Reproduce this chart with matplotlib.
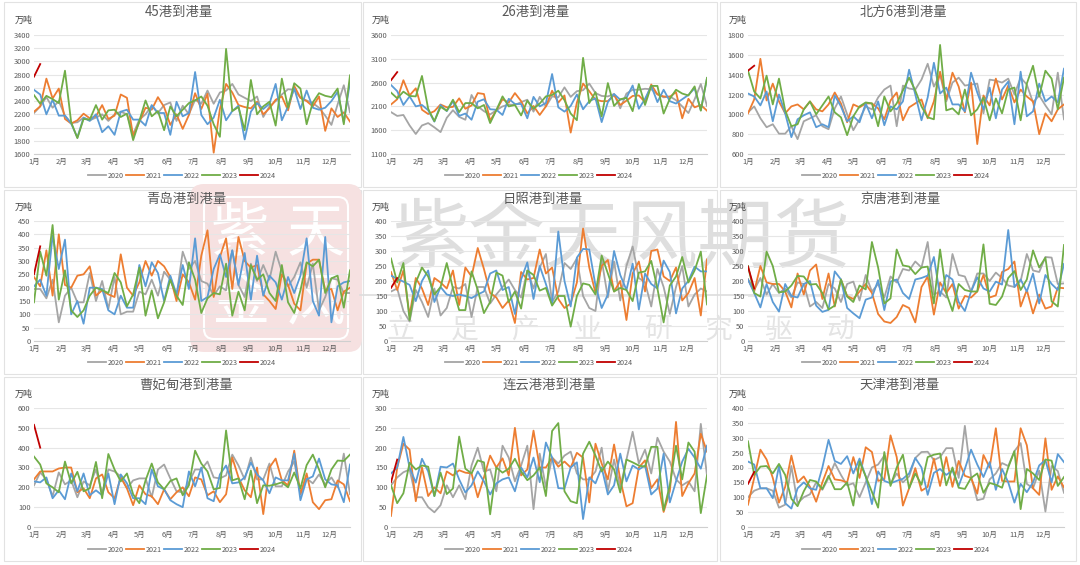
import numpy as np
import matplotlib
matplotlib.use('Agg')
import matplotlib.pyplot as plt
from matplotlib.patches import FancyBboxPatch, Rectangle

plt.rcParams['font.family'] = ['Noto Sans CJK SC', 'DejaVu Sans']

# weekly arrivals, 13 values per row, 4 rows per series
p45_2020 = [2220,2320,2460,2300,2400,2180,2070,2080,2150,2110,2150,2200,2100,
            2200,2240,2200,1900,2120,2200,2330,2220,2340,2380,2100,2330,2200,
            2420,2360,2560,2360,2530,2560,2660,2500,2450,2400,2470,2160,2320,
            2400,2500,2580,2570,2450,2410,2370,2300,2180,2040,2350,2640,2230]
p45_2021 = [2240,2320,2740,2440,2590,2130,2060,2110,2210,2140,2170,2340,2130,
            2180,2500,2450,1870,2080,2300,2270,2460,2310,2040,2200,1980,2190,
            2520,2280,2510,1620,2280,2660,2530,2340,2310,2290,2390,2200,2290,
            2420,2470,2260,2630,2450,2400,2320,2470,1950,2290,2160,2230,2090]
p45_2022 = [2570,2500,2200,2420,2180,2180,2060,1850,2150,2100,2200,1930,2020,
            1890,2240,2270,2120,2120,2030,2340,2220,2220,1890,2390,2170,2220,
            2840,2190,2050,2150,2420,2110,2250,2330,1820,2240,2370,2280,2360,
            2660,2110,2320,2590,2280,2560,2300,2270,2300,2400,2540,2080,2690]
p45_2023 = [2490,2360,2480,2430,2370,2860,2080,1840,2130,2120,2340,2120,2260,
            2270,2160,2210,1810,2100,2410,2170,2250,1960,2320,2170,2270,2370,
            2410,2470,2330,2050,1860,3190,2250,2310,1960,2720,2200,2320,2390,
            2030,2740,2300,2670,2590,2050,2380,2520,2480,2460,2590,2050,2790]
p45_2024 = [2770,2960]

p26_2020 = [1980,1900,1920,1700,1520,1700,1750,1660,1560,1860,2020,1880,1820,
            2340,2100,2000,1930,2020,2100,2140,2130,2190,2240,1990,2300,2100,
            2310,2290,2500,2300,2420,2440,2580,2380,2320,2310,2360,2060,2370,
            2450,2450,2470,2460,2360,2290,2310,2230,2100,1960,2250,2570,2110]
p26_2021 = [2140,2250,2650,2330,2480,2030,1940,2000,2140,2080,2090,2270,2050,
            2120,2380,2360,1800,2020,2250,2180,2380,2210,1950,2110,1920,2100,
            2430,2180,2330,1550,2180,2580,2420,2240,2210,2210,2340,2130,2220,
            2320,2330,2190,2560,2350,2310,2300,2400,1850,2260,2080,2130,2010]
p26_2022 = [2550,2420,2130,2310,2100,2130,2020,1780,2130,2000,2210,1900,1950,
            1820,2200,2250,2040,2030,1920,2260,2150,2150,1850,2300,2100,2170,
            2780,2080,1990,2110,2350,2040,2210,2270,1770,2190,2360,2240,2280,
            2540,2050,2260,2530,2190,2450,2210,2160,2250,2340,2480,2020,2690]
p26_2023 = [2390,2270,2410,2320,2310,2740,2050,1790,2090,2010,2240,1980,2170,
            2170,2060,2130,1750,2020,2310,2100,2130,1910,2220,2050,2160,2310,
            2340,2430,2230,1950,1810,3120,2170,2400,1890,2590,2110,2250,2280,
            2000,2570,2130,2530,2530,1950,2260,2450,2370,2330,2520,2010,2700]
p26_2024 = [2650,2820]

north_2020 = [1020,1080,960,870,900,805,805,880,750,930,960,990,880,
              850,1060,1180,1000,840,950,1080,1050,1170,1250,1290,880,1290,
              1260,1250,1350,1510,1280,1400,1130,1320,1370,1290,1300,1310,1010,
              1350,1340,1320,1360,1200,1370,1300,1120,1190,1090,1000,1420,950]
north_2021 = [1010,1150,1560,1140,1310,1130,1010,1080,1100,1050,1130,1050,1030,
              1100,1220,1110,920,1100,1070,1110,1110,1060,950,1140,1220,940,
              1070,1110,1150,960,1130,1430,1150,1420,1280,1020,1320,700,1190,
              1090,1360,1150,1290,1120,1250,1180,1130,800,1010,930,1050,1100]
north_2022 = [1210,1180,1090,1230,930,1200,1010,770,950,990,1020,870,900,
              870,1190,1080,930,980,920,1110,960,1130,890,1080,1050,1130,
              1450,1200,940,1170,1520,1210,1270,1100,1100,1030,1420,1220,1050,
              1270,960,1250,1330,900,1430,980,1030,1310,1130,1180,1120,1460]
north_2023 = [1440,1230,1160,1390,1100,1360,1040,880,900,1050,1130,1000,1090,
              1180,1020,970,790,980,1080,1120,1110,880,1180,1030,1110,1240,
              1370,1240,1080,970,950,1700,1040,1060,1000,1250,990,1050,1170,
              940,1160,1010,1250,1270,940,1310,1490,1180,1440,1360,1050,1370]
north_2024 = [1440,1490]

qd_2020 = [195,195,160,230,70,170,200,145,145,255,150,225,120,
           240,100,110,110,185,175,230,170,260,230,170,335,270,
           300,225,215,170,205,190,340,210,165,290,225,285,230,
           335,260,205,240,295,200,290,115,165,235,230,180,180]
qd_2021 = [240,205,340,170,400,210,200,245,250,280,170,190,175,
           165,325,200,170,220,300,245,300,280,240,150,250,220,
           155,320,415,165,315,385,195,390,300,275,285,175,150,
           120,250,210,140,115,290,305,305,190,195,115,185,200]
qd_2022 = [205,230,170,395,270,380,100,150,65,200,200,195,115,
           100,170,125,125,285,205,295,255,150,245,175,285,195,
           385,150,165,270,325,240,340,210,330,155,320,170,245,
           220,155,240,180,245,385,150,95,390,70,205,220,225]
qd_2023 = [145,335,245,435,155,265,115,90,115,170,200,190,180,
           255,220,130,175,275,95,190,85,145,230,170,135,295,
           230,105,160,180,175,290,95,185,115,285,230,250,180,
           150,285,145,105,190,295,280,305,180,235,245,125,265]
qd_2024 = [250,355]

rz_2020 = [165,175,100,65,170,130,80,175,85,110,180,175,190,
           80,180,180,125,155,180,205,170,145,235,175,245,290,
           130,165,260,240,275,150,110,100,270,145,265,135,250,
           315,210,195,115,240,180,90,180,250,115,155,175,165]
rz_2021 = [230,170,235,85,210,175,120,210,195,175,235,120,245,
           215,310,240,160,145,110,135,60,230,205,210,305,225,
           245,140,110,125,195,375,245,160,250,270,165,200,70,
           225,265,165,300,305,215,200,245,135,160,210,85,272]
rz_2022 = [218,207,198,187,133,200,235,130,180,155,150,155,150,
           143,155,165,225,235,170,180,90,205,262,140,250,190,
           122,365,200,115,278,307,305,185,110,155,300,220,170,
           258,105,225,190,175,268,230,92,175,200,248,232,232]
rz_2023 = [275,195,260,70,195,245,215,155,180,260,175,103,103,
           232,170,93,130,228,218,130,165,108,235,220,168,177,
           118,150,150,48,150,192,187,155,285,225,165,177,170,
           133,228,232,267,175,62,185,215,280,195,235,298,122]
rz_2024 = [177,210]

jt_2020 = [205,170,210,155,190,160,175,145,195,190,115,130,110,
           190,175,130,190,198,135,220,165,190,145,215,195,240,
           235,265,245,330,155,165,145,290,220,215,165,225,225,
           200,228,210,185,180,200,290,235,230,280,278,190,192]
jt_2021 = [205,165,250,195,190,190,165,112,225,155,235,255,140,
           225,115,205,150,140,165,190,160,90,65,60,80,120,
           110,62,180,215,88,195,160,190,108,150,145,165,220,
           145,152,230,240,265,115,170,92,155,108,115,178,176]
jt_2022 = [205,160,112,190,130,98,190,150,145,190,200,118,97,
           104,232,205,110,92,76,138,145,203,103,198,205,160,
           140,205,210,218,280,150,220,205,130,100,165,212,175,
           165,198,188,370,180,205,165,225,125,220,190,170,257]
jt_2023 = [250,160,148,298,250,162,165,185,217,215,188,190,160,
           105,118,205,148,130,185,172,330,245,125,142,305,252,
           248,223,245,248,125,305,160,100,190,170,165,165,322,
           124,120,148,210,233,170,205,302,245,278,132,115,320]
jt_2024 = [248,175]

cfd_2020 = [210,275,240,155,275,215,235,150,230,210,290,170,290,
            280,255,195,235,245,245,150,290,315,245,180,175,225,
            290,290,330,250,245,260,365,310,240,350,240,240,320,
            205,205,280,330,165,245,220,265,215,250,200,370,165]
cfd_2021 = [240,280,280,280,295,300,300,175,195,145,245,265,175,
            145,250,195,110,210,165,155,115,190,140,175,200,155,
            250,240,160,180,125,165,350,250,185,150,300,65,300,
            345,235,210,385,165,270,125,90,135,140,235,215,130]
cfd_2022 = [230,225,250,145,185,140,270,180,270,160,185,160,270,
            115,265,220,145,145,115,290,205,190,135,115,100,280,
            205,300,145,130,265,310,220,225,250,325,265,235,170,
            250,235,235,370,135,240,255,345,240,215,210,125,315]
cfd_2023 = [355,315,220,200,175,330,220,278,180,195,328,145,368,
            290,230,270,165,120,235,320,225,190,232,245,160,210,
            385,320,280,190,197,487,235,245,140,285,120,210,208,
            215,225,200,275,195,312,365,290,200,290,335,333,365]
cfd_2024 = [515,400]

lyg_2020 = [105,125,138,145,75,75,50,37,55,105,75,105,70,
            155,200,140,145,90,205,175,115,155,205,45,185,100,
            175,160,180,190,135,120,120,140,200,90,170,100,170,
            240,160,195,135,225,190,165,120,105,115,90,260,130]
lyg_2021 = [28,150,210,195,65,150,78,100,85,140,130,143,137,
            135,75,125,180,150,173,130,250,130,145,243,150,150,
            175,152,165,150,187,175,62,210,160,120,208,120,52,
            60,150,168,98,120,38,90,265,78,110,135,235,190]
lyg_2022 = [135,150,227,150,112,172,140,78,152,150,160,120,87,
            105,140,115,82,110,120,125,90,150,125,175,113,213,
            175,98,97,150,163,20,125,110,150,82,105,185,115,
            155,145,155,82,97,185,62,115,165,197,175,147,205]
lyg_2023 = [105,60,85,162,145,155,152,78,137,83,97,228,147,
            135,168,163,32,150,137,147,172,140,118,130,150,78,
            242,262,90,65,60,185,215,180,140,165,145,87,170,
            163,155,152,202,202,42,105,205,120,213,190,35,130]
lyg_2024 = [113,170]

tj_2020 = [100,122,130,130,122,65,75,205,80,100,110,150,125,
           165,215,175,140,147,100,150,200,210,240,145,180,150,
           170,232,252,253,225,235,265,265,165,340,170,90,95,
           160,180,215,205,255,282,145,130,190,52,205,188,115]
tj_2021 = [75,165,260,227,165,82,135,240,150,170,135,85,150,
           205,160,157,150,235,165,268,252,155,160,308,235,72,
           130,198,122,135,230,138,235,135,222,172,165,112,242,
           200,332,155,153,153,332,275,130,108,298,125,170,133]
tj_2022 = [220,210,130,130,97,205,80,62,130,150,130,125,200,
           293,222,212,238,180,230,170,77,187,155,147,155,162,
           180,232,200,108,182,195,175,190,138,195,260,210,168,
           218,125,195,150,82,145,117,150,207,225,150,245,218]
tj_2023 = [288,175,203,205,180,212,175,95,70,120,158,153,128,
           172,127,127,150,72,220,170,118,65,252,138,200,243,
           130,180,142,235,243,247,140,200,132,128,165,180,115,
           148,142,132,200,255,60,195,180,158,227,223,138,168]
tj_2024 = [145,185]

years = ['2020', '2021', '2022', '2023', '2024']
colors = ['#A5A5A5', '#ED7D31', '#5B9BD5', '#70AD47', '#C00000']
months = ['1月', '2月', '3月', '4月', '5月', '6月', '7月', '8月', '9月', '10月', '11月', '12月']
month_pos = [0, 4.4, 8.5, 12.8, 17, 21.5, 25.8, 30.2, 34.6, 39, 43.4, 47.6]

titles = ['45港到港量', '26港到港量', '北方6港到港量',
          '青岛港到港量', '日照港到港量', '京唐港到港量',
          '曹妃甸港到港量', '连云港港到港量', '天津港到港量']
series = [[p45_2020, p45_2021, p45_2022, p45_2023, p45_2024],
          [p26_2020, p26_2021, p26_2022, p26_2023, p26_2024],
          [north_2020, north_2021, north_2022, north_2023, north_2024],
          [qd_2020, qd_2021, qd_2022, qd_2023, qd_2024],
          [rz_2020, rz_2021, rz_2022, rz_2023, rz_2024],
          [jt_2020, jt_2021, jt_2022, jt_2023, jt_2024],
          [cfd_2020, cfd_2021, cfd_2022, cfd_2023, cfd_2024],
          [lyg_2020, lyg_2021, lyg_2022, lyg_2023, lyg_2024],
          [tj_2020, tj_2021, tj_2022, tj_2023, tj_2024]]
y_ranges = [(1600, 3400, 200), (1100, 3600, 500), (600, 1800, 200),
            (0, 450, 50), (0, 400, 50), (0, 400, 50),
            (0, 600, 100), (0, 300, 50), (0, 400, 50)]

# layout in picture pixels
W, H = 1080, 565
box_x = [(4, 361), (363, 717), (720, 1076)]
box_y = [(2, 187), (190, 374), (377, 561)]
ax_x = [(34, 350), (391, 707), (748, 1064)]
ax_y = [(35, 154), (221, 341), (408, 527)]
title_x = [179, 536, 903, 186, 543, 900, 186, 549, 900]
title_y = [12, 199, 385]
unit_x = [24, 381, 738]
unit_y = [20, 207, 394]
legend_y = [176, 363, 550]
legend_x = [182, 539, 896]

fig = plt.figure(figsize=(W / 100, H / 100), dpi=100, facecolor='white')

# full-figure layer in pixel coords: panel boxes, watermark, titles
bg = fig.add_axes([0, 0, 1, 1], zorder=-1)
bg.set_xlim(0, W)
bg.set_ylim(H, 0)
bg.axis('off')

for (y0, y1) in box_y:
    for (x0, x1) in box_x:
        bg.add_patch(Rectangle((x0, y0), x1 - x0, y1 - y0, fc='white', ec='#e2e2e2', lw=0.8))

# red seal
bg.add_patch(FancyBboxPatch((196, 190), 160, 156, boxstyle='round,pad=6,rounding_size=14',
                            fc='#f6e1e1', ec='none'))
bg.add_patch(FancyBboxPatch((204, 197), 144, 142, boxstyle='round,pad=0,rounding_size=10',
                            fc='none', ec='white', lw=1.5))
for ch, cx, cy in zip('紫天金风', [240, 316, 240, 316], [235, 235, 303, 303]):
    bg.text(cx, cy, ch, color='white', fontsize=42, ha='center', va='center')

# grey company watermark
bg.text(622, 240, '紫金天风期货', color='#dedede', fontsize=55, ha='center', va='center')
bg.plot([360, 852], [295, 295], color='#dddddd', lw=1.2)
for ch, cx in zip('立足产业研究驱动', [400, 465, 525, 587, 658, 718, 778, 840]):
    bg.text(cx, 330, ch, color='#e4e4e4', fontsize=20, ha='center', va='center')

for i, data in enumerate(series):
    row, col = i // 3, i % 3
    x0, x1 = ax_x[col]
    y0, y1 = ax_y[row]
    ax = fig.add_axes([x0 / W, 1 - y1 / H, (x1 - x0) / W, (y1 - y0) / H])
    ax.patch.set_alpha(0)
    for yr, vals, c in zip(years, data, colors):
        ax.plot(np.arange(len(vals)), vals, color=c, lw=1.3, label=yr, solid_joinstyle='round')
    lo, hi, step = y_ranges[i]
    ax.set_xlim(0, 51)
    ax.set_ylim(lo, hi)
    ax.set_yticks(np.arange(lo, hi + 1, step))
    ax.set_xticks(month_pos)
    ax.set_xticklabels(months)
    ax.tick_params(length=0, labelsize=5.4, colors='#595959', pad=2.5)
    ax.grid(axis='y', color='#e6e6e6', lw=0.8)
    ax.set_axisbelow(True)
    for s in ['top', 'left', 'right']:
        ax.spines[s].set_visible(False)
    ax.spines['bottom'].set_color('#cfcfcf')
    ax.spines['bottom'].set_linewidth(0.8)
    ax.legend(loc='center', bbox_to_anchor=(legend_x[col], legend_y[row]), bbox_transform=bg.transData,
              ncol=5, frameon=False, fontsize=5.2, handlelength=2.45, handletextpad=0.3,
              columnspacing=0.3, borderpad=0, labelcolor='#595959')
    bg.text(title_x[i], title_y[row], titles[i], color='#595959', fontsize=9.6,
            ha='center', va='center')
    bg.text(unit_x[col], unit_y[row], '万吨', color='#404040', fontsize=6.5, ha='center', va='center')

fig.savefig('out.png', dpi=100)
